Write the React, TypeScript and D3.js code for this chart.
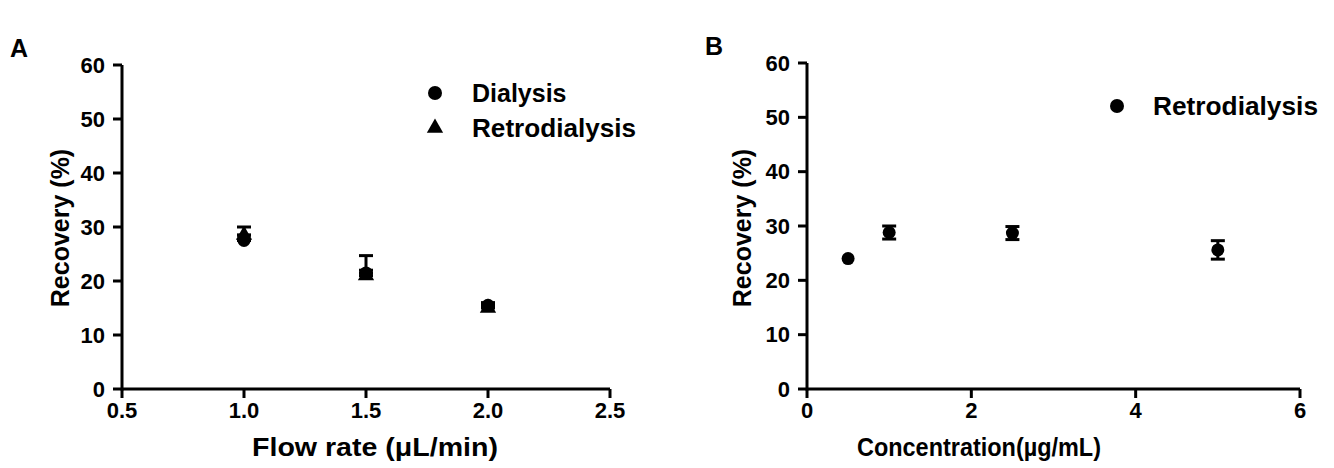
import React from 'react';
import * as d3 from 'd3';

// panel A: recovery vs flow rate
const flowRates = [1.0, 1.5, 2.0];
const dialysisMean = [27.5, 21.5, 15.5];
const dialysisErr = [1.0, 3.2, 0.5];
const retroMean = [28.5, 21.0, 15.0];
const retroErr = [1.5, 1.0, 0.4];
const flowTicks = [0.5, 1.0, 1.5, 2.0, 2.5];

// panel B: recovery vs concentration
const concentrations = [0.5, 1, 2.5, 5];
const concMean = [24.0, 28.8, 28.7, 25.6];
const concErr = [0, 1.2, 1.2, 1.7];
const concTicks = [0, 2, 4, 6];

const recoveryTicks = [0, 10, 20, 30, 40, 50, 60];

const FONT = '"Liberation Sans", Arial, sans-serif';

const yA = d3.scaleLinear().domain([0, 60]).range([389, 65]);
const xA = d3.scaleLinear().domain([0.5, 2.5]).range([122, 610]);
const yB = d3.scaleLinear().domain([0, 60]).range([389, 63]);
const xB = d3.scaleLinear().domain([0, 6]).range([807, 1300]);

const triangle = d3.symbol().type(d3.symbolTriangle).size(115);

const Axes = ({ x, y, xTicks, fmt }) => {
  const [x0, x1] = x.range();
  const [y0, y1] = y.range();
  return (
    <g>
      <line x1={x0} x2={x1} y1={y0} y2={y0} stroke="#000" strokeWidth={3} />
      <line x1={x0} x2={x0} y1={y0 + 1.5} y2={y1} stroke="#000" strokeWidth={3} />
      {recoveryTicks.map((t) => (
        <g key={'y' + t}>
          <line x1={x0 - 9} x2={x0} y1={y(t)} y2={y(t)} stroke="#000" strokeWidth={3} />
          <text x={x0 - 17} y={y(t) + 7.5} textAnchor="end" fontSize={22} fontWeight="bold">{t}</text>
        </g>
      ))}
      {xTicks.map((t) => (
        <g key={'x' + t}>
          <line x1={x(t)} x2={x(t)} y1={y0} y2={y0 + 9} stroke="#000" strokeWidth={3} />
          <text x={x(t)} y={y0 + 29} textAnchor="middle" fontSize={22} fontWeight="bold">{fmt(t)}</text>
        </g>
      ))}
    </g>
  );
};

const ErrBar = ({ cx, top, bottom }) => (
  <g stroke="#000" strokeWidth={3}>
    <line x1={cx} x2={cx} y1={top} y2={bottom} />
    <line x1={cx - 7} x2={cx + 7} y1={top} y2={top} />
    <line x1={cx - 7} x2={cx + 7} y1={bottom} y2={bottom} />
  </g>
);

const App = () => {
  return (
    <svg width={1334} height={468} style={{ position: 'absolute', left: 0, top: 0, background: '#fff' }} fontFamily={FONT}>
      {/* Panel A */}
      <text x={10} y={57} fontSize={25} fontWeight="bold">A</text>
      <Axes x={xA} y={yA} xTicks={flowTicks} fmt={d3.format('.1f')} />
      <text transform="translate(69,228) rotate(-90)" textAnchor="middle" fontSize={25} fontWeight="bold">Recovery (%)</text>
      <text x={375} y={456} textAnchor="middle" fontSize={25} fontWeight="bold" textLength={246} lengthAdjust="spacingAndGlyphs">Flow rate (μL/min)</text>

      {flowRates.map((f, i) => (
        <g key={'a' + i}>
          {retroErr[i] > 0.3 && <ErrBar cx={xA(f)} top={yA(retroMean[i] + retroErr[i])} bottom={yA(retroMean[i])} />}
          {dialysisErr[i] > 0.3 && <ErrBar cx={xA(f)} top={yA(dialysisMean[i] + dialysisErr[i])} bottom={yA(dialysisMean[i])} />}
          <path d={triangle()} transform={`translate(${xA(f)},${yA(retroMean[i])})`} fill="#000" />
          <circle cx={xA(f)} cy={yA(dialysisMean[i])} r={6.5} fill="#000" />
        </g>
      ))}

      {/* legend A */}
      <circle cx={435} cy={93} r={7} fill="#000" />
      <text x={472} y={102} fontSize={25} fontWeight="bold">Dialysis</text>
      <path d={triangle()} transform="translate(435,128)" fill="#000" />
      <text x={472} y={137} fontSize={25} fontWeight="bold" textLength={164} lengthAdjust="spacingAndGlyphs">Retrodialysis</text>

      {/* Panel B */}
      <text x={705} y={55} fontSize={25} fontWeight="bold">B</text>
      <Axes x={xB} y={yB} xTicks={concTicks} fmt={d3.format('d')} />
      <text transform="translate(751,228) rotate(-90)" textAnchor="middle" fontSize={25} fontWeight="bold">Recovery (%)</text>
      <text x={979} y={456} textAnchor="middle" fontSize={25} fontWeight="bold" textLength={244} lengthAdjust="spacingAndGlyphs">Concentration(µg/mL)</text>

      {concentrations.map((c, i) => (
        <g key={'b' + i}>
          {concErr[i] > 0 && <ErrBar cx={xB(c)} top={yB(concMean[i] + concErr[i])} bottom={yB(concMean[i] - concErr[i])} />}
          <circle cx={xB(c)} cy={yB(concMean[i])} r={6.5} fill="#000" />
        </g>
      ))}

      {/* legend B */}
      <circle cx={1117} cy={106} r={7} fill="#000" />
      <text x={1153} y={115} fontSize={25} fontWeight="bold" textLength={165} lengthAdjust="spacingAndGlyphs">Retrodialysis</text>
    </svg>
  );
};

export default App;
